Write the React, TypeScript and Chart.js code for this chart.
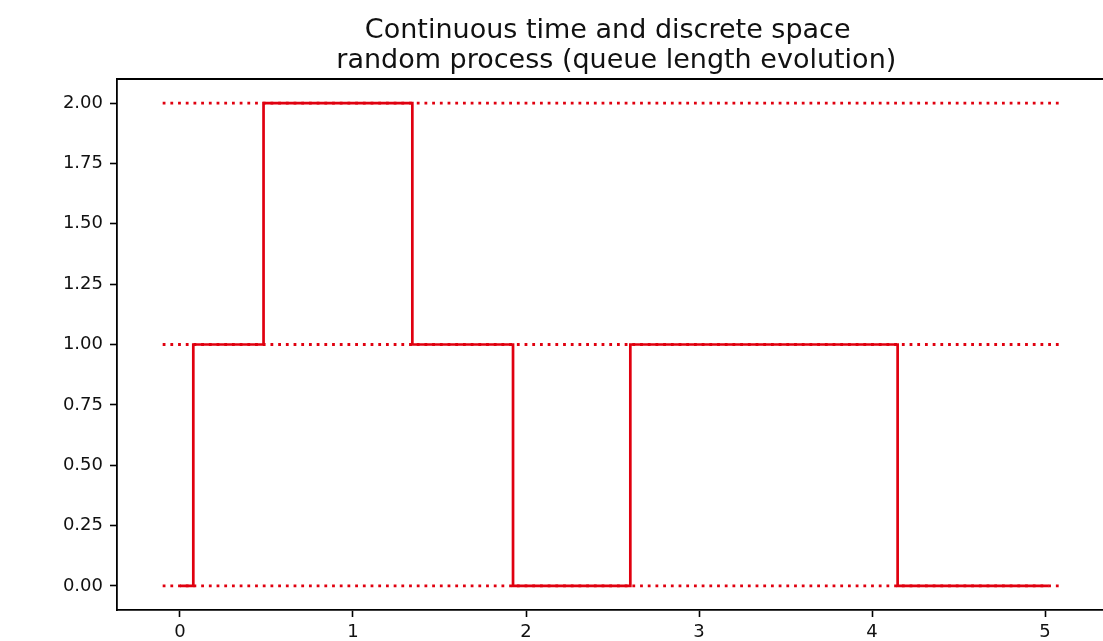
import React, { useEffect, useRef } from "react";
import { Chart, registerables } from "chart.js";

Chart.register(...registerables);

const titleLines = ["Continuous time and discrete space ", " random process (queue length evolution)"];
const stepTimes = [0, 0.077, 0.483, 1.343, 1.925, 2.603, 4.148, 5.02];
const stepValues = [0, 1, 2, 1, 0, 1, 0, 0];
const levelValues = [0, 1, 2];
const levelStart = -0.1;
const levelEnd = 5.1;
const xTickValues = [0, 1, 2, 3, 4, 5];
const yTickValues = [0, 0.25, 0.5, 0.75, 1.0, 1.25, 1.5, 1.75, 2.0];

const FONT = "'DejaVu Sans', sans-serif";
const RED = "#e0000f";

const framePlugin = {
  id: "frameAndTitle",
  afterDraw(chart: any) {
    const { ctx, chartArea } = chart;
    ctx.save();
    ctx.strokeStyle = "#000";
    ctx.lineWidth = 1.8;
    ctx.beginPath();
    ctx.moveTo(chartArea.left, chartArea.top);
    ctx.lineTo(chartArea.right + 10, chartArea.top);
    ctx.stroke();
    ctx.fillStyle = "#111";
    ctx.font = `27px ${FONT}`;
    ctx.textAlign = "center";
    ctx.textBaseline = "alphabetic";
    const cx = 612;
    ctx.fillText(titleLines[0], cx, 38);
    ctx.fillText(titleLines[1], cx, 68);
    ctx.restore();
  },
};

export default function App() {
  const ref = useRef<HTMLCanvasElement | null>(null);
  useEffect(() => {
    if (!ref.current) return;
    const levelDatasets = levelValues.map((v) => ({
      type: "line" as const,
      data: [
        { x: levelStart, y: v },
        { x: levelEnd, y: v },
      ],
      borderColor: RED,
      borderWidth: 2.8,
      borderDash: [2.8, 4.9],
      borderCapStyle: "butt" as const,
      pointRadius: 0,
      fill: false,
      order: 2,
    }));
    const chart = new Chart(ref.current, {
      type: "line",
      data: {
        datasets: [
          ...levelDatasets,
          {
            type: "line",
            data: stepTimes.map((t, i) => ({ x: t, y: stepValues[i] })),
            stepped: "before",
            borderColor: RED,
            borderWidth: 2.7,
            pointRadius: 0,
            fill: false,
            order: 1,
          },
        ] as any,
      },
      options: {
        responsive: false,
        animation: false,
        events: [],
        layout: { padding: { top: 79, left: 0, right: 0, bottom: 0 } },
        plugins: { legend: { display: false }, tooltip: { enabled: false }, title: { display: false } },
        scales: {
          x: {
            type: "linear",
            min: -0.364,
            max: 5.335,
            afterFit: (s: any) => {
              s.height = 31;
            },
            afterBuildTicks: (s: any) => {
              s.ticks = xTickValues.map((v) => ({ value: v }));
            },
            grid: {
              drawOnChartArea: false,
              drawTicks: true,
              tickLength: 7,
              tickWidth: 1.6,
              tickColor: "#000",
            },
            border: { display: true, color: "#000", width: 1.8 },
            ticks: {
              color: "#111",
              font: { family: FONT, size: 18 },
              padding: 5,
              maxRotation: 0,
              callback: (v: any) => String(v),
            },
          },
          y: {
            type: "linear",
            min: -0.1,
            max: 2.1,
            afterFit: (s: any) => {
              s.width = 117;
            },
            afterBuildTicks: (s: any) => {
              s.ticks = yTickValues.map((v) => ({ value: v }));
            },
            grid: {
              drawOnChartArea: false,
              drawTicks: true,
              tickLength: 7,
              tickWidth: 1.6,
              tickColor: "#000",
            },
            border: { display: true, color: "#000", width: 1.8 },
            ticks: {
              color: "#111",
              font: { family: FONT, size: 18 },
              padding: 7,
              callback: (v: any) => Number(v).toFixed(2),
            },
          },
        },
      },
      plugins: [framePlugin],
    });
    return () => chart.destroy();
  }, []);
  return (
    <div style={{ position: "fixed", left: 0, top: 0, width: 1103, height: 641, background: "#fff" }}>
      <canvas ref={ref} width={1103} height={641} />
    </div>
  );
}
